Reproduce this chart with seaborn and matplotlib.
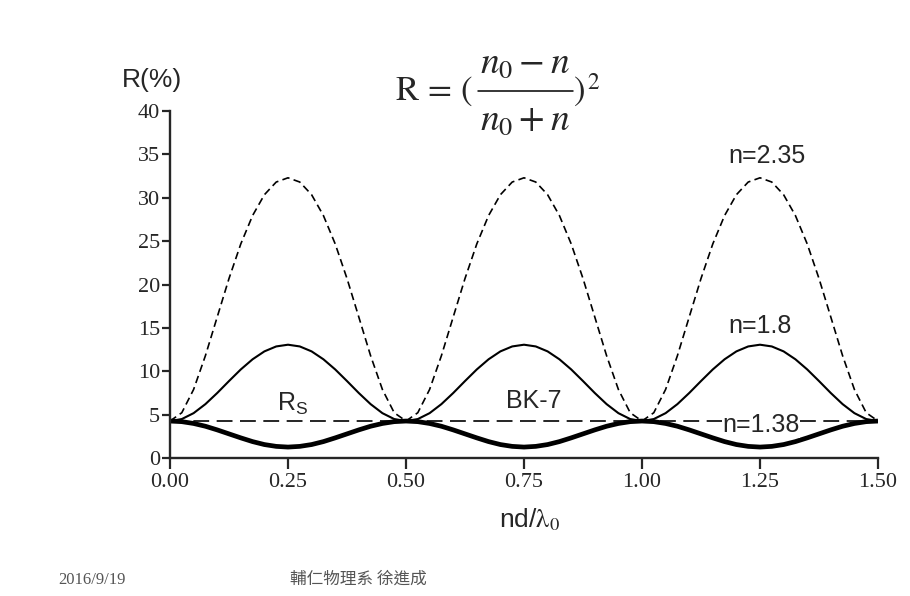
import matplotlib
matplotlib.use("Agg")
import matplotlib.pyplot as plt
import seaborn as sns
import pandas as pd
from matplotlib.lines import Line2D

# ---- data ----
x_vals = [0.000, 0.025, 0.050, 0.075, 0.100, 0.125, 0.150, 0.175, 0.200, 0.225,
          0.250, 0.275, 0.300, 0.325, 0.350, 0.375, 0.400, 0.425, 0.450, 0.475,
          0.500, 0.525, 0.550, 0.575, 0.600, 0.625, 0.650, 0.675, 0.700, 0.725,
          0.750, 0.775, 0.800, 0.825, 0.850, 0.875, 0.900, 0.925, 0.950, 0.975,
          1.000, 1.025, 1.050, 1.075, 1.100, 1.125, 1.150, 1.175, 1.200, 1.225,
          1.250, 1.275, 1.300, 1.325, 1.350, 1.375, 1.400, 1.425, 1.450, 1.475,
          1.500]

r_n235 = [4.26, 5.22, 7.90, 11.79, 16.25, 20.69, 24.68, 27.95, 30.35, 31.81,
          32.30, 31.81, 30.35, 27.95, 24.68, 20.69, 16.25, 11.79, 7.90, 5.22,
          4.26, 5.22, 7.90, 11.79, 16.25, 20.69, 24.68, 27.95, 30.35, 31.81,
          32.30, 31.81, 30.35, 27.95, 24.68, 20.69, 16.25, 11.79, 7.90, 5.22,
          4.26, 5.22, 7.90, 11.79, 16.25, 20.69, 24.68, 27.95, 30.35, 31.81,
          32.30, 31.81, 30.35, 27.95, 24.68, 20.69, 16.25, 11.79, 7.90, 5.22,
          4.26]

r_n18 = [4.26, 4.49, 5.17, 6.21, 7.49, 8.87, 10.21, 11.38, 12.29, 12.86,
         13.06, 12.86, 12.29, 11.38, 10.21, 8.87, 7.49, 6.21, 5.17, 4.49,
         4.26, 4.49, 5.17, 6.21, 7.49, 8.87, 10.21, 11.38, 12.29, 12.86,
         13.06, 12.86, 12.29, 11.38, 10.21, 8.87, 7.49, 6.21, 5.17, 4.49,
         4.26, 4.49, 5.17, 6.21, 7.49, 8.87, 10.21, 11.38, 12.29, 12.86,
         13.06, 12.86, 12.29, 11.38, 10.21, 8.87, 7.49, 6.21, 5.17, 4.49,
         4.26]

r_n138 = [4.26, 4.19, 3.98, 3.66, 3.24, 2.78, 2.32, 1.89, 1.55, 1.34,
          1.26, 1.34, 1.55, 1.89, 2.32, 2.78, 3.24, 3.66, 3.98, 4.19,
          4.26, 4.19, 3.98, 3.66, 3.24, 2.78, 2.32, 1.89, 1.55, 1.34,
          1.26, 1.34, 1.55, 1.89, 2.32, 2.78, 3.24, 3.66, 3.98, 4.19,
          4.26, 4.19, 3.98, 3.66, 3.24, 2.78, 2.32, 1.89, 1.55, 1.34,
          1.26, 1.34, 1.55, 1.89, 2.32, 2.78, 3.24, 3.66, 3.98, 4.19,
          4.26]

rs_x = [0.0, 1.5]
rs_y = [4.26, 4.26]

x_ticks = [0.00, 0.25, 0.50, 0.75, 1.00, 1.25, 1.50]
x_tick_labels = ["0.00", "0.25", "0.50", "0.75", "1.00", "1.25", "1.50"]
y_ticks = [0, 5, 10, 15, 20, 25, 30, 35, 40]
y_tick_labels = ["0", "5", "10", "15", "20", "25", "30", "35", "40"]

# ---- style ----
sns.set_style("ticks")
plt.rcParams["font.family"] = ["Liberation Sans", "DejaVu Sans"]
plt.rcParams["mathtext.fontset"] = "custom"
plt.rcParams["mathtext.rm"] = "Liberation Sans"
plt.rcParams["mathtext.it"] = "Liberation Sans:italic"

W, H = 910, 596
fig = plt.figure(figsize=(W / 100, H / 100), dpi=100)
fig.patch.set_facecolor("white")
ax = fig.add_axes([170 / W, 1 - 458 / H, 708 / W, 347 / H])

df235 = pd.DataFrame({"x": x_vals, "R": r_n235})
df18 = pd.DataFrame({"x": x_vals, "R": r_n18})
df138 = pd.DataFrame({"x": x_vals, "R": r_n138})
dfrs = pd.DataFrame({"x": rs_x, "R": rs_y})

sns.lineplot(data=df235, x="x", y="R", ax=ax, color="black", lw=1.2,
             linestyle=(0, (4.5, 2.6)), sort=False)
sns.lineplot(data=dfrs, x="x", y="R", ax=ax, color="black", lw=1.2,
             linestyle=(0, (9.5, 4.5)), sort=False)
sns.lineplot(data=df18, x="x", y="R", ax=ax, color="black", lw=1.5, sort=False)
sns.lineplot(data=df138, x="x", y="R", ax=ax, color="black", lw=3.4,
             sort=False, solid_capstyle="butt")

ax.set_xlim(0, 1.5)
ax.set_ylim(0, 40)
ax.set_xticks(x_ticks)
ax.set_xticklabels(x_tick_labels, family="Liberation Serif", fontsize=16)
ax.set_yticks(y_ticks)
ax.set_yticklabels(y_tick_labels, family="Liberation Serif", fontsize=16)
ax.tick_params(axis="x", length=8, width=1.6, pad=3, direction="out")
ax.tick_params(axis="y", length=6, width=1.6, pad=1, direction="out")
for s in ("top", "right"):
    ax.spines[s].set_visible(False)
for s in ("left", "bottom"):
    ax.spines[s].set_linewidth(1.7)
ax.set_xlabel("")
ax.set_ylabel("")

# annotations
ax.text(1.265, 34.0, "n=2.35", ha="center", va="baseline", fontsize=18)
ax.text(1.251, 14.4, "n=1.8", ha="center", va="baseline", fontsize=18)
ax.text(1.252, 3.0, "n=1.38", ha="center", va="baseline", fontsize=18,
        bbox=dict(facecolor="white", edgecolor="none", pad=0.5))
ax.text(0.227, 5.4, r"R$_\mathrm{S}$", ha="left", va="baseline", fontsize=18)
ax.text(0.771, 5.76, "BK-7", ha="center", va="baseline", fontsize=18)

# axis titles
fig.text(122 / W, 1 - 87 / H, "R(%)", ha="left", va="baseline", fontsize=19)
fig.text(499 / W, 1 - 527 / H, r"nd/$\mathrm{\lambda}_0$", ha="left",
         va="baseline", fontsize=19, math_fontfamily="stix")

# formula R = ((n0 - n)/(n0 + n))^2, laid out piece by piece
fig.text(395 / W, 1 - 100 / H, r"$\mathrm{R}\,=\,($", ha="left", va="baseline",
         fontsize=25, math_fontfamily="stix")
fig.text(525 / W, 1 - 73 / H, r"$n_0 - n$", ha="center", va="baseline",
         fontsize=27, math_fontfamily="stix")
fig.text(525 / W, 1 - 130 / H, r"$n_0 + n$", ha="center", va="baseline",
         fontsize=27, math_fontfamily="stix")
fig.add_artist(Line2D([478 / W, 573 / W], [1 - 91 / H, 1 - 91 / H],
                      transform=fig.transFigure, color="black", lw=1.1))
fig.text(573 / W, 1 - 100 / H, r"$)$", ha="left", va="baseline",
         fontsize=25, math_fontfamily="stix")
fig.text(587 / W, 1 - 89 / H, r"$2$", ha="left", va="baseline",
         fontsize=17, math_fontfamily="stix")

# footer
fig.text(58 / W, 1 - 584 / H, "2016/9/19", ha="left", va="baseline",
         fontsize=12, color="#555555", family="Liberation Serif")
fig.text(290 / W, 1 - 584 / H, "輔仁物理系 徐進成", ha="left", va="baseline",
         fontsize=12, color="#555555", family=["Noto Sans CJK TC", "DejaVu Sans"])

fig.savefig("out.png", dpi=100, facecolor="white")
